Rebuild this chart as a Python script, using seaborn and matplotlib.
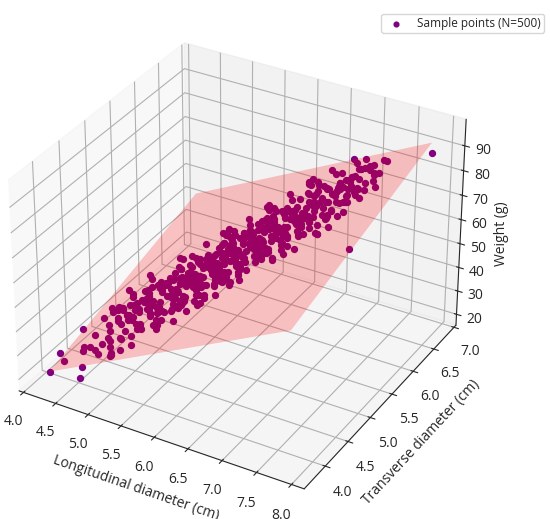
import numpy as np
import seaborn as sns
import matplotlib.pyplot as plt

# Longitudinal diameter (cm), transverse diameter (cm), weight (g)
longitudinal = [
    4.21, 4.28, 4.35, 4.44, 4.50, 4.53, 4.57, 4.40,
    4.61, 4.65, 4.68, 4.72, 4.75, 4.78, 4.80, 4.83, 4.86, 4.90,
    4.63, 4.67, 4.70, 4.74, 4.77, 4.81, 4.84, 4.88, 4.93, 4.97,
    4.62, 4.66, 4.71, 4.73, 4.79, 4.82, 4.85, 4.89, 4.94, 4.98,
    4.64, 4.69, 4.72, 4.76, 4.80, 4.84, 4.87, 4.91, 4.95, 4.99,
    4.60, 4.66, 4.70, 4.75, 4.79, 4.83, 4.86, 4.90, 4.92, 4.96,
    5.01, 5.04, 5.07, 5.10, 5.13, 5.17, 5.21, 5.25, 5.30, 5.36,
    5.02, 5.05, 5.09, 5.12, 5.15, 5.19, 5.23, 5.27, 5.32, 5.38,
    5.00, 5.06, 5.08, 5.11, 5.16, 5.18, 5.22, 5.26, 5.31, 5.35,
    5.03, 5.07, 5.10, 5.14, 5.17, 5.20, 5.24, 5.28, 5.33, 5.39,
    5.04, 5.08, 5.11, 5.15, 5.19, 5.22, 5.27, 5.29, 5.34, 5.37,
    5.02, 5.06, 5.12, 5.16, 5.20, 5.23, 5.26, 5.30, 5.33, 5.36,
    5.05, 5.09, 5.13, 5.18, 5.21, 5.25, 5.28, 5.31, 5.35, 5.39,
    5.01, 5.08, 5.14, 5.19, 5.24, 5.27, 5.32, 5.34, 5.37, 5.40,
    5.41, 5.44, 5.47, 5.50, 5.53, 5.57, 5.61, 5.65, 5.70, 5.76,
    5.42, 5.45, 5.49, 5.52, 5.56, 5.59, 5.63, 5.68, 5.72, 5.78,
    5.40, 5.46, 5.48, 5.51, 5.55, 5.58, 5.62, 5.66, 5.71, 5.75,
    5.43, 5.47, 5.50, 5.54, 5.58, 5.60, 5.64, 5.69, 5.73, 5.79,
    5.41, 5.44, 5.48, 5.53, 5.56, 5.61, 5.65, 5.67, 5.72, 5.77,
    5.42, 5.46, 5.51, 5.54, 5.57, 5.62, 5.66, 5.70, 5.74, 5.78,
    5.43, 5.45, 5.50, 5.55, 5.59, 5.63, 5.67, 5.71, 5.75, 5.79,
    5.40, 5.47, 5.52, 5.55, 5.60, 5.64, 5.68, 5.71, 5.76, 5.80,
    5.44, 5.48, 5.53, 5.57, 5.62, 5.65, 5.69, 5.73, 5.77, 5.80,
    5.45, 5.52, 5.58, 5.64, 5.74,
    5.81, 5.84, 5.87, 5.90, 5.93, 5.97, 6.01, 6.05, 6.10, 6.16,
    5.82, 5.85, 5.89, 5.92, 5.96, 5.99, 6.03, 6.08, 6.12, 6.18,
    5.80, 5.86, 5.88, 5.91, 5.95, 5.98, 6.02, 6.06, 6.11, 6.15,
    5.83, 5.87, 5.90, 5.94, 5.98, 6.00, 6.04, 6.09, 6.13, 6.19,
    5.81, 5.84, 5.88, 5.93, 5.96, 6.01, 6.05, 6.07, 6.12, 6.17,
    5.82, 5.86, 5.91, 5.94, 5.97, 6.02, 6.06, 6.10, 6.14, 6.18,
    5.83, 5.85, 5.90, 5.95, 5.99, 6.03, 6.07, 6.11, 6.15, 6.19,
    5.80, 5.87, 5.92, 5.96, 6.00, 6.04, 6.08, 6.13, 6.16, 6.20,
    5.84, 5.88, 5.91, 5.95, 5.98, 6.02, 6.05, 6.09, 6.14, 6.17,
    5.86, 5.93, 6.00, 6.08, 6.13,
    6.21, 6.24, 6.27, 6.30, 6.34, 6.38, 6.42, 6.46, 6.51, 6.57,
    6.22, 6.25, 6.29, 6.32, 6.36, 6.40, 6.44, 6.49, 6.54, 6.59,
    6.20, 6.26, 6.28, 6.33, 6.37, 6.41, 6.45, 6.48, 6.53, 6.56,
    6.23, 6.27, 6.31, 6.35, 6.39, 6.43, 6.47, 6.50, 6.55, 6.60,
    6.21, 6.25, 6.30, 6.34, 6.37, 6.42, 6.46, 6.50, 6.54, 6.58,
    6.22, 6.26, 6.29, 6.33, 6.38, 6.41, 6.45, 6.49, 6.52, 6.57,
    6.24, 6.28, 6.31, 6.35, 6.39, 6.43, 6.47, 6.51, 6.55, 6.59,
    6.20, 6.23, 6.32, 6.36, 6.40, 6.44, 6.48, 6.52, 6.56, 6.60,
    6.61, 6.64, 6.67, 6.71, 6.75, 6.79, 6.83, 6.88, 6.93, 6.98,
    6.62, 6.66, 6.69, 6.73, 6.77, 6.81, 6.86, 6.90, 6.95, 6.99,
    6.60, 6.65, 6.68, 6.72, 6.76, 6.80, 6.85, 6.89, 6.94, 6.97,
    6.63, 6.66, 6.70, 6.74, 6.78, 6.82, 6.87, 6.91, 6.96, 7.00,
    6.62, 6.67, 6.71, 6.76, 6.80, 6.84, 6.88, 6.92, 6.97, 6.99,
    6.64, 6.73, 6.81, 6.90, 6.95,
    6.86, 6.88, 6.90, 6.93, 6.95, 6.98, 7.01, 7.04, 7.08, 7.12,
    6.87, 6.89, 6.92, 6.94, 6.97, 7.00, 7.03, 7.06, 7.10, 7.14,
    6.88, 6.91, 6.93, 6.96, 6.99, 7.02, 7.06, 7.11,
    7.15, 7.17, 7.20, 7.22, 7.26, 7.28, 7.30, 7.25, 7.80,
]
transverse = [
    3.82, 4.39, 3.92, 4.62, 4.10, 4.79, 4.52, 3.80,
    4.70, 3.85, 4.58, 4.44, 4.99, 4.29, 4.75, 4.23, 4.60, 5.01,
    4.24, 4.71, 3.88, 4.90, 4.58, 4.26, 4.73, 4.52, 4.97, 4.47,
    4.49, 4.16, 4.92, 4.36, 4.76, 3.95, 4.93, 4.64, 4.28, 4.85,
    3.90, 4.57, 4.77, 4.32, 4.49, 5.08, 4.17, 4.88, 4.79, 4.54,
    4.57, 4.80, 4.23, 3.94, 4.58, 4.46, 5.02, 4.33, 4.91, 4.66,
    5.02, 4.32, 4.89, 4.74, 5.29, 4.59, 5.08, 4.56, 4.95, 5.38,
    4.55, 5.01, 4.28, 5.20, 4.88, 4.56, 5.04, 4.82, 5.28, 4.79,
    4.79, 4.48, 5.21, 4.66, 5.06, 4.39, 5.22, 4.94, 4.58, 5.15,
    4.41, 4.87, 5.07, 4.62, 4.78, 5.37, 4.46, 5.17, 5.09, 4.86,
    4.92, 5.13, 4.56, 4.43, 4.90, 4.76, 5.34, 4.64, 5.24, 4.98,
    5.03, 4.34, 4.92, 4.79, 5.35, 4.64, 5.12, 4.60, 4.97, 5.38,
    4.57, 5.04, 4.31, 5.25, 4.93, 4.61, 5.08, 4.85, 5.31, 4.80,
    4.80, 4.49, 5.26, 4.72, 5.12, 4.46, 5.30, 5.00, 4.62, 5.19,
    4.71, 5.16, 5.36, 4.91, 5.07, 5.66, 4.75, 5.46, 5.38, 5.15,
    5.22, 5.43, 4.86, 4.72, 5.19, 5.06, 5.63, 4.95, 5.54, 5.31,
    5.33, 4.65, 5.21, 5.06, 5.62, 4.92, 5.40, 4.88, 5.27, 5.68,
    4.87, 5.34, 4.61, 5.54, 5.22, 4.88, 5.37, 5.16, 5.61, 5.11,
    5.11, 4.78, 5.53, 4.99, 5.37, 4.73, 5.56, 5.26, 4.90, 5.48,
    4.72, 5.17, 5.39, 4.94, 5.10, 5.70, 4.79, 5.50, 5.41, 5.17,
    5.23, 5.43, 4.87, 4.74, 5.22, 5.09, 5.66, 4.97, 5.56, 5.31,
    5.33, 4.66, 5.24, 5.09, 5.66, 4.97, 5.45, 4.92, 5.31, 5.72,
    4.88, 5.35, 4.63, 5.56, 5.25, 4.92, 5.41, 5.19, 5.64, 5.12,
    5.15, 4.84, 5.61, 5.08, 5.51,
    5.43, 5.09, 5.84, 5.28, 5.66, 5.02, 5.85, 5.56, 5.20, 5.79,
    5.04, 5.48, 5.69, 5.24, 5.41, 5.99, 5.08, 5.80, 5.71, 5.48,
    5.52, 5.75, 5.17, 5.03, 5.50, 5.36, 5.94, 5.25, 5.85, 5.60,
    5.67, 4.98, 5.54, 5.40, 5.96, 5.25, 5.73, 5.22, 5.60, 6.03,
    5.17, 5.63, 4.91, 5.84, 5.52, 5.21, 5.69, 5.46, 5.91, 5.41,
    5.44, 5.11, 5.87, 5.31, 5.70, 5.06, 5.89, 5.60, 5.23, 5.80,
    5.05, 5.48, 5.70, 5.26, 5.43, 6.02, 5.12, 5.83, 5.74, 5.49,
    5.52, 5.76, 5.20, 5.07, 5.54, 5.41, 5.98, 5.30, 5.89, 5.64,
    5.67, 4.99, 5.55, 5.41, 5.96, 5.27, 5.74, 5.22, 5.61, 6.01,
    5.21, 5.70, 5.00, 5.96, 5.65,
    5.75, 5.41, 6.15, 5.60, 5.99, 5.34, 6.17, 5.88, 5.52, 6.11,
    5.35, 5.80, 6.01, 5.55, 5.72, 6.32, 5.41, 6.13, 6.05, 5.81,
    5.84, 6.07, 5.48, 5.36, 5.83, 5.70, 6.28, 5.58, 6.18, 5.92,
    5.98, 5.29, 5.86, 5.73, 6.29, 5.59, 6.07, 5.55, 5.93, 6.35,
    5.49, 5.96, 5.24, 6.17, 5.84, 5.53, 6.01, 5.80, 6.25, 5.74,
    5.75, 5.43, 6.17, 5.62, 6.02, 5.36, 6.20, 5.91, 5.53, 6.11,
    5.37, 5.82, 6.02, 5.58, 5.75, 6.34, 5.43, 6.14, 6.05, 5.81,
    5.84, 6.04, 5.51, 5.38, 5.86, 5.73, 6.30, 5.61, 6.20, 5.95,
    6.28, 5.59, 6.15, 6.01, 6.57, 5.87, 6.36, 5.85, 6.23, 6.65,
    5.81, 6.28, 5.55, 6.48, 6.16, 5.84, 6.33, 6.11, 6.57, 6.06,
    6.05, 5.73, 6.48, 5.93, 6.32, 5.67, 6.51, 6.22, 5.86, 6.43,
    5.68, 6.12, 6.33, 5.88, 6.06, 6.65, 5.75, 6.46, 6.38, 6.13,
    6.17, 6.39, 5.82, 5.70, 6.17, 6.04, 6.62, 5.93, 6.53, 6.26,
    6.31, 5.66, 6.26, 6.16, 6.73,
    5.98, 6.44, 5.70, 6.63, 6.30, 5.98, 6.46, 6.25, 6.70, 6.21,
    6.24, 5.92, 6.66, 6.10, 6.49, 5.85, 6.68, 6.39, 6.03, 6.61,
    5.85, 6.31, 6.51, 6.07, 6.24, 6.71, 5.94, 6.66,
    6.40, 6.55, 6.30, 6.60, 6.45, 6.62, 6.66, 5.90, 6.89,
]
weight = [
    20.5, 28.8, 24.5, 30.5, 27.0, 31.7, 24.9, 30.7,
    35.0, 21.7, 33.1, 38.6, 34.0, 27.4, 40.1, 31.7, 26.8, 40.3,
    24.0, 35.0, 34.4, 34.2, 37.4, 24.7, 35.5, 37.5, 35.4, 43.3,
    31.6, 33.9, 30.9, 23.2, 41.0, 32.8, 35.0, 39.5, 32.6, 33.2,
    25.2, 32.2, 42.0, 33.3, 27.2, 42.0, 26.9, 38.4, 43.3, 34.2,
    37.0, 30.4, 29.0, 33.8, 28.7, 34.4, 44.8, 26.5, 39.8, 36.6,
    40.8, 40.3, 35.7, 31.1, 49.4, 41.0, 41.1, 43.9, 42.4, 42.2,
    33.6, 40.4, 43.8, 44.6, 34.8, 43.1, 38.1, 43.1, 52.0, 41.3,
    44.0, 33.7, 41.2, 42.6, 37.2, 38.8, 51.2, 35.7, 42.8, 45.4,
    38.8, 33.6, 42.5, 45.7, 38.4, 41.0, 44.1, 44.7, 36.7, 46.0,
    34.6, 43.6, 43.9, 36.6, 45.5, 34.0, 45.8, 44.1, 43.0, 52.6,
    43.0, 29.7, 41.6, 47.2, 42.8, 36.2, 49.1, 40.9, 35.9, 49.2,
    32.2, 43.2, 42.5, 42.8, 46.0, 33.3, 44.1, 45.8, 43.6, 51.5,
    39.2, 42.1, 39.3, 32.2, 49.8, 41.6, 44.1, 48.2, 41.0, 41.4,
    40.2, 46.8, 56.7, 47.8, 41.4, 56.2, 41.3, 52.9, 58.0, 49.2,
    53.0, 45.8, 44.4, 48.8, 43.7, 49.2, 59.8, 41.7, 55.4, 52.6,
    48.4, 48.5, 43.7, 39.0, 57.6, 49.0, 49.1, 51.9, 50.3, 49.8,
    41.6, 48.6, 51.7, 52.8, 43.2, 51.1, 46.1, 51.3, 60.0, 49.3,
    52.0, 41.1, 49.0, 50.8, 45.0, 47.2, 59.6, 43.7, 50.8, 53.6,
    46.4, 41.2, 50.4, 53.5, 46.2, 49.2, 52.3, 52.9, 44.7, 53.6,
    42.2, 50.8, 51.6, 44.4, 53.3, 42.0, 53.6, 52.2, 51.0, 60.8,
    50.4, 37.7, 49.4, 54.8, 50.6, 44.2, 57.3, 48.8, 44.3, 57.8,
    39.8, 50.8, 50.3, 50.4, 54.0, 41.1, 52.1, 54.0, 51.8, 59.5,
    47.8, 50.6, 47.9, 41.0, 59.5,
    54.8, 56.9, 53.6, 46.1, 63.2, 55.2, 57.6, 62.1, 55.3, 56.2,
    48.2, 54.8, 64.9, 55.9, 49.8, 64.4, 49.5, 61.3, 66.1, 57.4,
    60.4, 53.8, 52.0, 56.4, 51.3, 56.8, 67.4, 49.1, 63.0, 59.8,
    56.8, 56.5, 51.9, 47.4, 66.0, 57.2, 57.3, 60.3, 58.5, 58.4,
    49.0, 55.8, 59.1, 60.4, 50.6, 59.1, 54.1, 58.7, 67.6, 56.7,
    60.0, 49.3, 57.3, 58.8, 53.0, 55.2, 67.6, 52.1, 59.0, 61.6,
    54.4, 48.8, 58.1, 61.5, 54.4, 57.2, 60.3, 60.8, 52.7, 61.6,
    49.4, 59.0, 59.7, 52.4, 61.3, 50.0, 61.6, 60.4, 59.0, 68.8,
    59.0, 45.7, 57.0, 62.6, 58.0, 51.6, 64.5, 56.3, 51.7, 65.0,
    48.0, 59.5, 59.5, 60.4, 63.9,
    62.6, 64.7, 61.4, 53.9, 71.2, 63.2, 65.6, 70.1, 63.2, 64.2,
    56.0, 62.6, 72.7, 63.7, 57.6, 72.4, 57.5, 69.3, 74.3, 65.4,
    68.2, 61.6, 59.8, 64.6, 59.5, 65.2, 75.8, 57.3, 71.2, 67.8,
    64.6, 64.3, 59.8, 55.4, 74.0, 65.6, 65.7, 68.3, 66.7, 66.4,
    56.8, 63.8, 67.3, 68.4, 58.6, 67.1, 62.1, 67.1, 75.8, 64.7,
    67.8, 57.1, 64.8, 66.4, 61.0, 62.8, 75.2, 59.7, 66.4, 69.2,
    62.4, 57.2, 66.0, 69.3, 62.2, 65.0, 68.1, 68.6, 60.5, 69.4,
    57.2, 66.0, 67.5, 60.2, 69.1, 57.8, 69.4, 68.0, 66.8, 76.6,
    74.0, 60.5, 71.9, 77.4, 73.0, 66.6, 79.7, 71.7, 67.1, 78.5,
    62.8, 73.8, 73.0, 73.0, 76.4, 63.7, 74.9, 76.9, 74.8, 79.5,
    70.2, 72.7, 69.4, 62.0, 79.4, 71.4, 74.0, 78.5, 71.6, 72.0,
    64.0, 70.6, 80.7, 71.9, 65.8, 80.6, 65.9, 77.4, 79.0, 73.4,
    76.4, 69.6, 68.1, 73.0, 67.9, 73.6, 80.0, 65.8, 79.8, 76.2,
    72.6, 73.2, 69.6, 66.2, 80.5,
    69.4, 76.0, 79.1, 78.0, 70.0, 78.1, 73.0, 77.9, 79.5, 75.6,
    77.0, 69.4, 77.1, 78.4, 72.6, 74.5, 79.0, 71.1, 78.1, 77.5,
    74.8, 69.5, 77.0, 79.5, 74.1, 76.8, 76.5, 77.0,
    77.5, 76.0, 77.0, 79.0, 76.0, 84.5, 83.5, 60.0, 87.0,
]

L = np.array(longitudinal)
T = np.array(transverse)
W = np.array(weight)

# least squares plane: W = b0 + b1*L + b2*T
A = np.column_stack([np.ones_like(L), L, T])
coef, *_ = np.linalg.lstsq(A, W, rcond=None)

gl, gt = np.meshgrid(np.linspace(L.min(), L.max(), 10), np.linspace(T.min(), T.max(), 10))
gw = coef[0] + coef[1] * gl + coef[2] * gt

sns.set_style("white", {"grid.color": "#b0b0b0"})
plt.rcParams['font.family'] = ['Open Sans', 'DejaVu Sans']

fig = plt.figure(figsize=(5.5, 5.19), dpi=100)
ax = fig.add_axes([-0.044, 0.004, 0.941, 0.98], projection='3d')
ax.view_init(elev=32, azim=-60)

ax.plot_surface(gl, gt, gw, color='red', alpha=0.22, shade=False, linewidth=0)
ax.scatter(L, T, W, color='purple', s=18, depthshade=False, alpha=1,
           label=f'Sample points (N={len(L)})')

ax.set_xlabel('Longitudinal diameter (cm)', labelpad=4)
ax.set_ylabel('Transverse diameter (cm)')
ax.set_xticks([4.0, 4.5, 5.0, 5.5, 6.0, 6.5, 7.0, 7.5, 8.0])
ax.set_yticks([4.0, 4.5, 5.0, 5.5, 6.0, 6.5, 7.0])
ax.set_zticks([20, 30, 40, 50, 60, 70, 80, 90])
ax.zaxis.set_tick_params(pad=0)
ax.set_xlim(3.93, 8.18)
ax.set_ylim(3.55, 7.05)
ax.set_zlim(15.3, 100.6)
fig.text(0.912, 0.549, 'Weight (g)', rotation=90, ha='center', va='center', fontsize=10)

fig.legend(loc='upper right', bbox_to_anchor=(1.0, 0.985), fontsize=8.5,
           markerscale=0.8, borderpad=0.25)

plt.savefig('out.png', dpi=100)
